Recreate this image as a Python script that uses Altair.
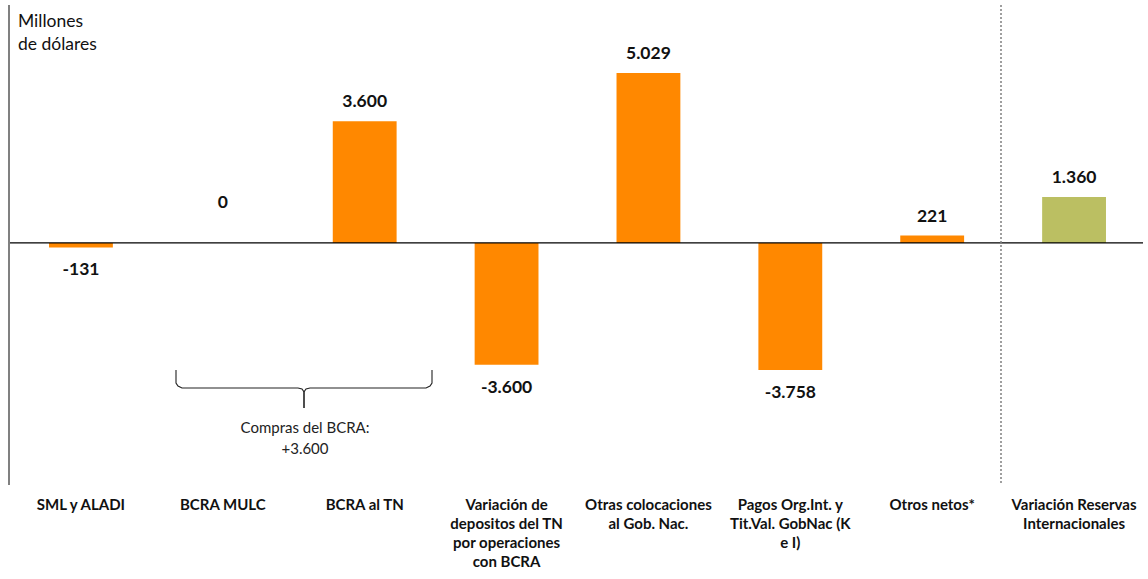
import altair as alt
import pandas as pd

categories = [
    "SML y ALADI",
    "BCRA MULC",
    "BCRA al TN",
    "Variación de\ndepositos del TN\npor operaciones\ncon BCRA",
    "Otras colocaciones\nal Gob. Nac.",
    "Pagos Org.Int. y\nTit.Val. GobNac (K\ne I)",
    "Otros netos*",
    "Variación Reservas\nInternacionales",
]
keys = ["c0", "c1", "c2", "c3", "c4", "c5", "c6", "c7"]
values = [-131, 0, 3600, -3600, 5029, -3758, 221, 1360]
value_labels = ["-131", "0", "3.600", "-3.600", "5.029", "-3.758", "221", "1.360"]
kinds = ["flujo", "flujo", "flujo", "flujo", "flujo", "flujo", "flujo", "total"]

df = pd.DataFrame({
    "key": keys,
    "cat": categories,
    "value": values,
    "label": value_labels,
    "kind": kinds,
})

FONT = "Lato"
W, H = 1135, 480

x_enc = alt.X("key:N", sort=keys,
              scale=alt.Scale(paddingInner=0.55, paddingOuter=0.275),
              axis=None)
y_scale = alt.Scale(domain=[-7160, 7040], nice=False, zero=False)

base = alt.Chart(df)

bars = base.mark_bar().encode(
    x=x_enc,
    y=alt.Y("value:Q", scale=y_scale, axis=None),
    y2=alt.datum(0),
    color=alt.Color("kind:N",
                    scale=alt.Scale(domain=["flujo", "total"], range=["#FF8800", "#BBBF62"]),
                    legend=None),
)

txt_common = dict(font=FONT, fontSize=17.5, fontWeight="bold", color="#111111", baseline="middle")
pos_lbl = base.transform_filter("datum.value > 0").mark_text(dy=-19, **txt_common).encode(
    x=x_enc, y=alt.Y("value:Q", scale=y_scale), text="label:N")
neg_lbl = base.transform_filter("datum.value < 0").mark_text(dy=23, **txt_common).encode(
    x=x_enc, y=alt.Y("value:Q", scale=y_scale), text="label:N")
zero_lbl = base.transform_filter("datum.value == 0").mark_text(dy=-40, **txt_common).encode(
    x=x_enc, y=alt.Y("value:Q", scale=y_scale), text="label:N")

cat_lbl = base.mark_text(font=FONT, fontSize=15, fontWeight="bold", color="#111111",
                         baseline="top", lineBreak="\n", lineHeight=19).encode(
    x=x_enc, y=alt.value(493), text="cat:N")

zero_rule = alt.Chart(pd.DataFrame({"z": [0]})).mark_rule(color="black", strokeWidth=1.2).encode(
    y=alt.Y("z:Q", scale=y_scale), x=alt.value(0), x2=alt.value(1133))

left_rule = alt.Chart(pd.DataFrame({"z": [0]})).mark_rule(color="#808080", strokeWidth=2).encode(
    x=alt.value(-1), y=alt.value(0), y2=alt.value(480))
sep_rule = alt.Chart(pd.DataFrame({"z": [0]})).mark_rule(color="#808080", strokeWidth=1.5,
                                                         strokeDash=[2, 2]).encode(
    x=alt.value(991), y=alt.value(0), y2=alt.value(480))

unit_txt = alt.Chart(pd.DataFrame({"t": ["Millones\nde dólares"]})).mark_text(
    font=FONT, fontSize=17.5, align="left", baseline="top", lineBreak="\n", lineHeight=23,
    color="#111111").encode(x=alt.value(8), y=alt.value(8), text="t:N")

# brace annotation (decorative)
bx_left = [166, 166, 168, 172, 288, 292, 294, 294, 294]
by_left = [365, 378, 381, 383, 383, 384, 387, 392, 403]
bx = bx_left + [588 - v for v in bx_left]
by = by_left + by_left
side = ["l"] * len(bx_left) + ["r"] * len(bx_left)
order = list(range(len(bx_left))) * 2
brace = alt.Chart(pd.DataFrame({"bx": bx, "by": by, "side": side, "o": order})).mark_line(
    color="#222222", strokeWidth=1.1).encode(
    x=alt.X("bx:Q", scale=None), y=alt.Y("by:Q", scale=None),
    detail="side:N", order="o:Q")

brace_txt = alt.Chart(pd.DataFrame({"t": ["Compras del BCRA:\n+3.600"]})).mark_text(
    font=FONT, fontSize=15, baseline="top", lineBreak="\n", lineHeight=21,
    color="#222222").encode(x=alt.value(295), y=alt.value(416), text="t:N")

chart = alt.layer(
    bars, zero_rule, left_rule, sep_rule, pos_lbl, neg_lbl, zero_lbl, cat_lbl,
    unit_txt, brace, brace_txt
).properties(
    width=W, height=H,
    background="white",
    autosize=alt.AutoSizeParams(type="none"),
    padding={"left": 10, "top": 5, "right": 3, "bottom": 94},
).configure_view(strokeWidth=0, stroke=None)

chart.save("out.html", embed_options={"renderer": "svg", "actions": False})
